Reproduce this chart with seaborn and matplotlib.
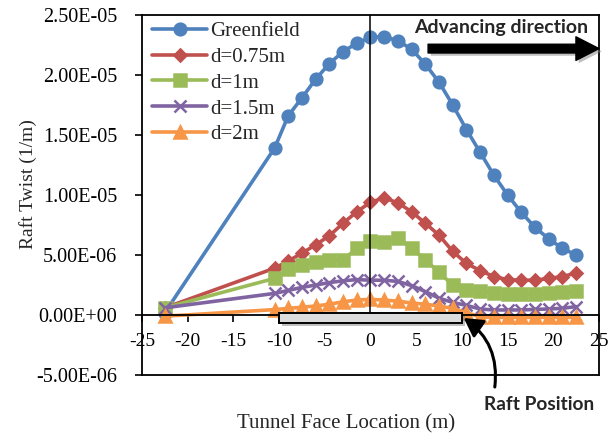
"""
Raft twist vs tunnel face location (greenfield and raft depths).
"""

import matplotlib

matplotlib.use("Agg")
import matplotlib.patheffects as pe
import matplotlib.pyplot as plt
import numpy as np
import seaborn as sns
from matplotlib.patches import Rectangle
from matplotlib.ticker import FormatStrFormatter, MultipleLocator

# tunnel face location (m)
FACE_X = [-22.5, -10.5, -9, -7.5, -6, -4.5, -3, -1.5, 0, 1.5, 3, 4.5,
          6, 7.5, 9, 10.5, 12, 13.5, 15, 16.5, 18, 19.5, 21, 22.5]

# raft twist, in units of 1e-6 1/m
GREENFIELD = [0.2, 13.9, 16.6, 18.1, 19.65, 20.95, 21.95, 22.65, 23.15, 23.2, 22.85, 22.15,
              20.9, 19.4, 17.5, 15.45, 13.55, 11.65, 10.0, 8.55, 7.3, 6.35, 5.55, 5.0]
D_075 = [0.6, 3.9, 4.5, 5.15, 5.85, 6.6, 7.65, 8.6, 9.4, 9.75, 9.35, 8.6,
         7.65, 6.65, 5.3, 4.3, 3.7, 3.2, 2.95, 2.9, 2.9, 3.05, 3.2, 3.5]
D_1 = [0.6, 3.05, 3.8, 4.15, 4.45, 4.6, 4.6, 5.55, 6.2, 6.05, 6.45, 5.55,
       4.6, 3.55, 2.5, 2.1, 2.0, 1.8, 1.75, 1.75, 1.75, 1.8, 1.9, 2.0]
D_15 = [0.6, 1.8, 2.05, 2.3, 2.5, 2.7, 2.85, 2.95, 2.9, 2.9, 2.8, 2.45,
        1.95, 1.4, 1.05, 0.8, 0.5, 0.42, 0.42, 0.42, 0.47, 0.5, 0.56, 0.7]
D_2 = [-0.1, 0.45, 0.55, 0.65, 0.75, 0.9, 1.1, 1.25, 1.3, 1.25, 1.15, 1.0,
       0.9, 0.75, 0.55, 0.2, -0.15, -0.2, -0.2, -0.2, -0.2, -0.2, -0.2, -0.2]

SERIES_NAMES = ["Greenfield", "d=0.75m", "d=1m", "d=1.5m", "d=2m"]
SERIES_VALUES = [GREENFIELD, D_075, D_1, D_15, D_2]
COLORS = ["#4F81BD", "#C0504D", "#9BBB59", "#8064A2", "#F79646"]
MARKERS = ["o", "D", "s", "x", "^"]
MARKER_SIZES = [8.4, 6.5, 9.2, 8.7, 8.7]

X_TICKS = [-25, -20, -15, -10, -5, 0, 5, 10, 15, 20, 25]

SERIF = ["Liberation Serif", "DejaVu Serif"]
BOLD_SANS = ["Lato", "DejaVu Sans"]


def main():
    sns.set_theme(style="ticks")
    plt.rcParams["font.family"] = SERIF
    plt.rcParams["axes.unicode_minus"] = False

    fig, ax = plt.subplots(figsize=(6.16, 4.4), dpi=100)
    fig.subplots_adjust(left=0.2305, right=0.9724, top=0.9659, bottom=0.1477)

    x = np.array(FACE_X)
    for name, vals, color, marker, ms in zip(
        SERIES_NAMES, SERIES_VALUES, COLORS, MARKERS, MARKER_SIZES
    ):
        sns.lineplot(
            x=x, y=np.array(vals) * 1e-6, ax=ax, color=color, marker=marker,
            markersize=ms, markeredgecolor=color, markeredgewidth=1.8,
            linewidth=2.6, label=name, sort=False,
        )

    ax.set_xlim(-25, 25)
    ax.set_ylim(-5e-6, 2.5e-5)
    ax.set_xticks(X_TICKS)
    ax.yaxis.set_major_locator(MultipleLocator(5e-6))
    ax.yaxis.set_major_formatter(FormatStrFormatter("%.2E"))

    # x axis crosses at zero, frame kept around the plot area
    ax.spines["bottom"].set_position(("data", 0))
    for side in ["left", "right", "top", "bottom"]:
        ax.spines[side].set_color("black")
        ax.spines[side].set_linewidth(1.3)
    ax.plot([0, 1], [0, 0], transform=ax.transAxes, color="black", lw=1.3,
            clip_on=False, zorder=5)
    ax.vlines(0, 0, 2.5e-5, color="black", lw=1.1, zorder=6)

    ax.tick_params(axis="x", direction="out", length=5, width=1.2, pad=8,
                   labelsize=14, colors="black")
    ax.tick_params(axis="y", direction="out", length=5, width=1.2, pad=13,
                   labelsize=14.5, colors="black")

    ax.set_xlabel("Tunnel Face Location (m)", fontsize=15)
    ax.set_ylabel("Raft Twist (1/m)", fontsize=14)
    ax.xaxis.set_label_coords(0.446, -0.108)
    ax.yaxis.set_label_coords(-0.23, 0.53)

    ax.legend(loc="upper left", bbox_to_anchor=(0.023, 0.982), frameon=False,
              fontsize=15, handlelength=2.6, handletextpad=0.15,
              labelspacing=0.3, borderpad=0, borderaxespad=0)

    shadow = [pe.SimplePatchShadow(offset=(2, -2), shadow_rgbFace="gray", alpha=0.5),
              pe.Normal()]

    # raft
    raft = Rectangle((-10, -0.65e-6), 20, 0.8e-6, facecolor="#dcdcdc",
                     edgecolor="black", lw=1.4, zorder=8)
    raft.set_path_effects(shadow)
    ax.add_patch(raft)

    # advancing direction
    ax.annotate("", xy=(25, 22.2e-6), xytext=(6.3, 22.2e-6),
                arrowprops=dict(arrowstyle="simple,head_length=1.66,head_width=1.7,tail_width=0.63",
                                color="black", shrinkA=0, shrinkB=0,
                                mutation_scale=10, path_effects=shadow),
                annotation_clip=False, zorder=9)
    ax.text(14.3, 24.0e-6, "Advancing direction", ha="center", va="center",
            fontsize=14, fontweight="bold", family=BOLD_SANS, zorder=9)

    # raft position callout
    ax.annotate("", xy=(10.2, -0.25e-6), xytext=(13.6, -6.0e-6),
                arrowprops=dict(arrowstyle="-|>,head_length=0.8,head_width=0.45",
                                color="black", lw=2.2, shrinkA=0, shrinkB=0,
                                mutation_scale=14,
                                connectionstyle="arc3,rad=0.3"),
                annotation_clip=False, zorder=9)
    ax.text(18.5, -7.42e-6, "Raft Position", ha="center", va="center",
            fontsize=13.8, fontweight="bold", family=BOLD_SANS, clip_on=False)

    fig.savefig("out.png", dpi=100)
    plt.close(fig)


if __name__ == "__main__":
    main()
